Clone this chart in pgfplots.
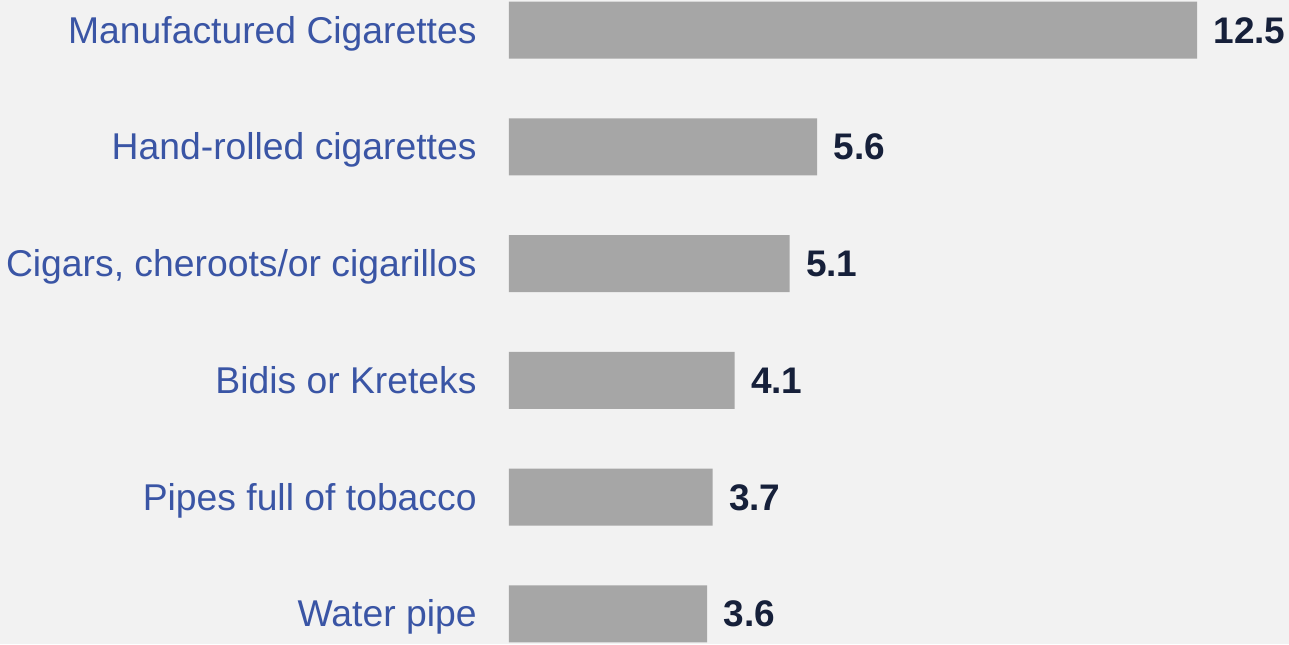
\documentclass[border=0pt]{standalone}
\usepackage{pgfplots}
\pgfplotsset{compat=1.18}
\usepackage{fontspec}
\setmainfont{Liberation Sans}
\definecolor{bg}{HTML}{F2F2F2}
\definecolor{bar}{HTML}{A6A6A6}
\definecolor{lab}{HTML}{3A55A5}
\definecolor{val}{HTML}{16203A}
\begin{document}
\begin{tikzpicture}[x=0.5pt,y=0.5pt]
\fill[bg] (-509,0) rectangle (780,644);
\useasboundingbox (-509,0) rectangle (780,644);
\begin{axis}[
  at={(0,0)}, anchor=south west,
  scale only axis, width=390pt, height=322pt,
  xbar, bar width=28.5pt,
  xmin=0, xmax=14.171,
  ymin=-0.257, ymax=5.257, y dir=reverse,
  axis line style={draw=none},
  xtick=\empty,
  ytick={0,1,2,3,4,5},
  yticklabels={Manufactured Cigarettes,Hand-rolled cigarettes,{Cigars, cheroots/or cigarillos},Bidis or Kreteks,Pipes full of tobacco,Water pipe},
  major tick length=0pt,
  yticklabel style={font=\fontsize{18.65pt}{22pt}\selectfont, text=lab, anchor=base east, inner sep=0pt, xshift=-16pt, yshift=-6.5pt},
  nodes near coords,
  nodes near coords style={font=\bfseries\fontsize{18.5pt}{22pt}\selectfont, text=val, anchor=base west, inner sep=0pt, xshift=8pt, yshift=-6.5pt},
  point meta=explicit symbolic,
  clip=false,
]
\addplot[fill=bar, draw=none] table[meta=v] {
x y v
12.5 0 12.5
5.6 1 5.6
5.1 2 5.1
4.1 3 4.1
3.7 4 3.7
3.6 5 3.6
};
\end{axis}
\end{tikzpicture}
\end{document}
